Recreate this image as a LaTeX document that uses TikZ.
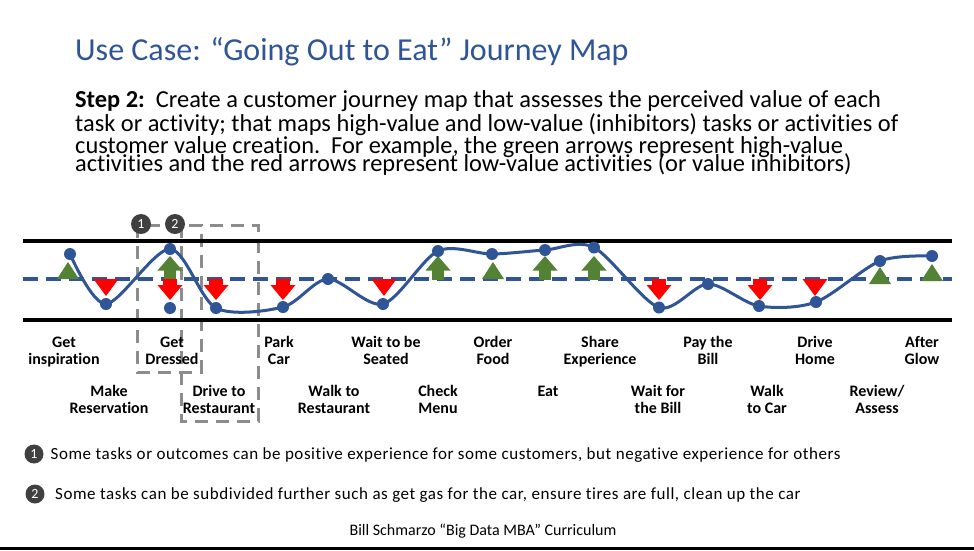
\documentclass[tikz,border=0pt]{standalone}
\usepackage{fontspec}
\setmainfont[Ligatures=NoCommon]{Carlito}
\definecolor{titleblue}{HTML}{2F5597}
\definecolor{curveblue}{HTML}{2F5597}
\definecolor{gooda}{HTML}{548235}
\definecolor{bada}{HTML}{FF0000}
\definecolor{boxgray}{HTML}{8C8C8C}
\definecolor{numgray}{HTML}{404040}
\tikzset{
  gtri/.pic={\fill[gooda] (-11,0)--(11,0)--(0,-17)--cycle;},
  garr/.pic={\fill[gooda] (-6,0.5) rectangle (6,-9); \fill[gooda] (-12.5,-8.5)--(12.5,-8.5)--(0,-23)--cycle;},
  rtri/.pic={\fill[bada] (-12.5,0)--(12.5,0)--(0,17)--cycle;},
  rarr/.pic={\fill[bada] (-7,-0.5) rectangle (7,6.5); \fill[bada] (-12.5,6)--(12.5,6)--(0,21)--cycle;},
  dot/.style={circle,fill=curveblue,inner sep=0pt,minimum size=12pt},
  lab/.style={font=\fontsize{16}{17}\selectfont\bfseries,align=center,inner sep=0pt,anchor=north},
  num/.style={circle,fill=numgray,text=white,inner sep=0pt,minimum size=20pt,font=\fontsize{14}{14}\selectfont},
  smallnum/.style={circle,fill=numgray,text=white,inner sep=0pt,minimum size=19pt,font=\fontsize{14}{14}\selectfont},
  gbox/.style={draw=boxgray,line width=3pt,dash pattern=on 13pt off 8pt},
  body/.style={font=\fontsize{24.4}{26}\selectfont,anchor=base west,inner sep=0pt},
  note/.style={font=\fontsize{17}{18}\selectfont\addfontfeatures{LetterSpace=3.3},anchor=base west,inner sep=0pt},
}
\begin{document}
\begin{tikzpicture}[x=1pt,y=-1pt]
\useasboundingbox (0,0) rectangle (974,550);
\fill[white] (0,0) rectangle (974,550);
% title and text
\node[anchor=base west,inner sep=0pt,text=titleblue,font=\fontsize{32}{34}\selectfont] (title) at (75,60) {Use Case: “Going Out to Eat” Journey Map};
\node[body] (t1) at (75,107.5) {\textbf{Step 2:}\ \ Create a customer journey map that assesses the perceived value of each};
\node[body] (t2) at (75,131) {task or activity; that maps high-value and low-value (inhibitors) tasks or activities of};
\node[body] (t3) at (75,153) {customer value creation.\ \ For example, the green arrows represent high-value};
\node[body] (t4) at (75,171.5) {activities and the red arrows represent low-value activities (or value inhibitors)};
% dashed boxes
\draw[gbox] (137,225) rectangle (201,372);
\draw[gbox] (181,225) rectangle (258,421);
% band lines
\draw[line width=3.5pt] (23,241) coordinate (tl) -- (952,241) coordinate (tr);
\draw[line width=3.5pt] (23,320) coordinate (bl) -- (952,320) coordinate (br);
\draw[curveblue,line width=3.5pt,dash pattern=on 15pt off 8pt] (23,279) coordinate (ml) -- (952,279) coordinate (mr);
% arrows
\pic at (68,279) {gtri};
\pic at (106,279) {rtri};
\pic at (170,279) {garr};
\pic at (170,279) {rarr};
\pic at (216,279) {rarr};
\pic at (283,279) {rarr};
\pic at (384,279) {rtri};
\pic at (438,279) {garr};
\pic at (493,279) {gtri};
\pic at (545,279) {garr};
\pic at (594,279) {garr};
\pic at (659,279) {rarr};
\pic at (760,279) {rarr};
\pic at (815,279) {rtri};
\pic at (880,284) {gtri};
\pic at (932,281) {gtri};
% curve points
\coordinate (p1) at (70,254);
\coordinate (p2) at (106,304);
\coordinate (p3) at (170,249);
\coordinate (p4) at (216,308);
\coordinate (p5) at (283,307);
\coordinate (p6) at (328,279);
\coordinate (p7) at (383,304);
\coordinate (p8) at (438,251);
\coordinate (p9) at (492,254);
\coordinate (p10) at (545,250);
\coordinate (p11) at (594,247.5);
\coordinate (p12) at (659,307.5);
\coordinate (p13) at (708,284);
\coordinate (p14) at (759,306);
\coordinate (p15) at (816,302);
\coordinate (p16) at (880,261);
\coordinate (p17) at (932,256);
\draw[curveblue,line width=3pt] plot[smooth,tension=0.5] coordinates {(p1) (p2) (p3) (p4) (p5) (p6) (p7) (p8) (p9) (p10) (p11) (p12) (p13) (p14) (p15) (p16) (p17)};
\foreach \i in {1,...,17} {\node[dot] (d\i) at (p\i) {};}
\node[dot] (dx) at (170,308) {};
% numbered markers
\node[num] (n1) at (141,224) {1};
\node[num] (n2) at (175,224) {2};
% labels upper row
\node[lab] (l1) at (64,336.5) {Get\\inspiration};
\node[lab] (l3) at (172,336.5) {Get\\Dressed};
\node[lab] (l5) at (279,336.5) {Park\\Car};
\node[lab] (l7) at (386,336.5) {Wait to be\\Seated};
\node[lab] (l9) at (493,336.5) {Order\\Food};
\node[lab] (l11) at (600,336.5) {Share\\Experience};
\node[lab] (l13) at (708,336.5) {Pay the\\Bill};
\node[lab] (l15) at (815,336.5) {Drive\\Home};
\node[lab] (l17) at (922,336.5) {After\\Glow};
% labels lower row
\node[lab] (l2) at (109,385.5) {Make\\Reservation};
\node[lab] (l4) at (219,385.5) {Drive to\\Restaurant};
\node[lab] (l6) at (334,385.5) {Walk to\\Restaurant};
\node[lab] (l8) at (438,385.5) {Check\\Menu};
\node[lab] (l10) at (548,385.5) {Eat};
\node[lab] (l12) at (658,385.5) {Wait for\\the Bill};
\node[lab] (l14) at (767,385.5) {Walk\\to Car};
\node[lab] (l16) at (877,385.5) {Review/\\Assess};
% notes
\node[smallnum] (f1) at (34,454) {1};
\node[note] (nt1) at (50.5,459) {Some tasks or outcomes can be positive experience for some customers, but negative experience for others};
\node[smallnum] (f2) at (35,494) {2};
\node[note] (nt2) at (55,499) {Some tasks can be subdivided further such as get gas for the car, ensure tires are full, clean up the car};
% footer
\node[anchor=base,inner sep=0pt,font=\fontsize{16}{17}\selectfont] (foot) at (483,535) {Bill Schmarzo “Big Data MBA” Curriculum};
\fill (0,546.5) rectangle (974,550);
\end{tikzpicture}
\end{document}
